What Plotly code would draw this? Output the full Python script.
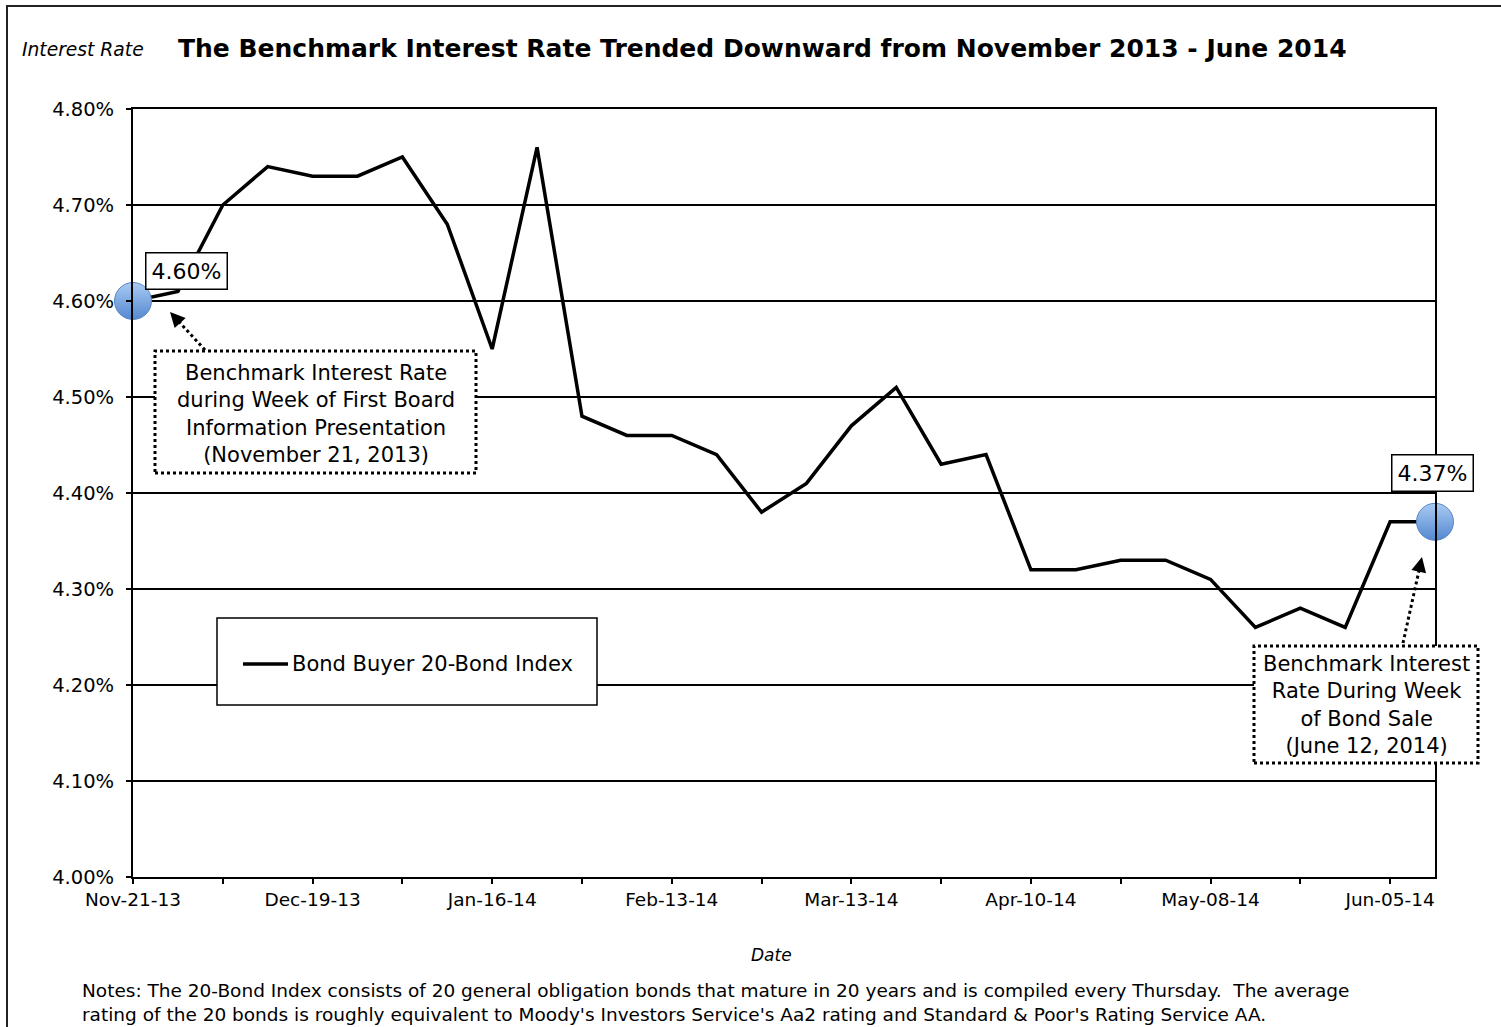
import plotly.graph_objects as go

# Weekly Bond Buyer 20-Bond Index readings (compiled every Thursday)
dates = [
    "2013-11-21", "2013-11-28", "2013-12-05", "2013-12-12", "2013-12-19",
    "2013-12-26", "2014-01-02", "2014-01-09", "2014-01-16", "2014-01-23",
    "2014-01-30", "2014-02-06", "2014-02-13", "2014-02-20", "2014-02-27",
    "2014-03-06", "2014-03-13", "2014-03-20", "2014-03-27", "2014-04-03",
    "2014-04-10", "2014-04-17", "2014-04-24", "2014-05-01", "2014-05-08",
    "2014-05-15", "2014-05-22", "2014-05-29", "2014-06-05", "2014-06-12",
]
rates = [
    4.60, 4.61, 4.70, 4.74, 4.73, 4.73, 4.75, 4.68, 4.55, 4.76,
    4.48, 4.46, 4.46, 4.44, 4.38, 4.41, 4.47, 4.51, 4.43, 4.44,
    4.32, 4.32, 4.33, 4.33, 4.31, 4.26, 4.28, 4.26, 4.37, 4.37,
]
series_name = "Bond Buyer 20-Bond Index"
y_ticks = [4.00, 4.10, 4.20, 4.30, 4.40, 4.50, 4.60, 4.70, 4.80]
y_tick_text = [f"{v:.2f}%" for v in y_ticks]

title_text = "The Benchmark Interest Rate Trended Downward from November 2013 - June 2014"
first_note = ("Benchmark Interest Rate<br>during Week of First Board<br>"
              "Information Presentation<br>(November 21, 2013)")
sale_note = "Benchmark Interest<br>Rate During Week<br>of Bond Sale<br>(June 12, 2014)"
notes_text = ("Notes: The 20-Bond Index consists of 20 general obligation bonds that mature in 20 years "
              "and is compiled every Thursday.  The average<br>rating of the 20 bonds is roughly equivalent "
              "to Moody's Investors Service's Aa2 rating and Standard &amp; Poor's Rating Service AA.")

W, H = 1501, 1027
L, R, T, B = 133, 1435, 109, 877  # plot-area edges in pixels
FONT = "DejaVu Sans"
WEEK_MS = 7 * 24 * 3600 * 1000


def px(x):
    return (x - L) / (R - L)


def py(y):
    return (B - y) / (B - T)


def text_ann(x, y, text, size, **kw):
    d = dict(xref="paper", yref="paper", x=px(x), y=py(y), text=text,
             showarrow=False, xanchor="center", yanchor="middle",
             font=dict(family=FONT, size=size, color="black"))
    d.update(kw)
    return d


fig = go.Figure()

fig.add_trace(go.Scatter(
    x=dates, y=rates, mode="lines", name=series_name, showlegend=False,
    line=dict(color="black", width=3.5),
))

# highlighted endpoints
sel = [0, len(dates) - 1]
fig.add_trace(go.Scatter(
    x=[dates[i] for i in sel], y=[rates[i] for i in sel], mode="markers",
    showlegend=False, cliponaxis=False,
    marker=dict(size=37, color="#A9CBF3",
                gradient=dict(type="vertical", color="#5488D0"),
                line=dict(color="#5A86C4", width=1)),
))

shapes = []
annotations = []

# outer frame
shapes.append(dict(type="rect", xref="paper", yref="paper",
                   x0=px(7), x1=px(1520), y0=py(1045), y1=py(6),
                   line=dict(color="#222", width=2), layer="below"))

# legend box with line sample and series name
shapes.append(dict(type="rect", xref="paper", yref="paper",
                   x0=px(217), x1=px(597), y0=py(705), y1=py(618),
                   line=dict(color="black", width=1.5), fillcolor="white", layer="above"))
shapes.append(dict(type="line", xref="paper", yref="paper",
                   x0=px(243), x1=px(288), y0=py(664), y1=py(664),
                   line=dict(color="black", width=3.5), layer="above"))
annotations.append(text_ann(290, 664, series_name, 21, xanchor="left"))

# dotted callout boxes
for (x0, x1, y0, y1) in [(155, 476, 351, 473), (1254, 1478, 646, 763)]:
    shapes.append(dict(type="rect", xref="paper", yref="paper",
                       x0=px(x0), x1=px(x1), y0=py(y1), y1=py(y0),
                       line=dict(color="black", width=3, dash="dot"),
                       fillcolor="white", layer="above"))

# dotted arrows: shaft as a shape, head as an annotation arrow
arrows = [((205, 350), (170, 312)), ((1403, 643), (1422, 557))]
for (tx, ty), (hx, hy) in arrows:
    dx, dy = tx - hx, ty - hy
    n = (dx * dx + dy * dy) ** 0.5
    ux, uy = dx / n, dy / n
    shapes.append(dict(type="line", xref="paper", yref="paper",
                       x0=px(tx), y0=py(ty), x1=px(hx + ux * 8), y1=py(hy + uy * 8),
                       line=dict(color="black", width=3, dash="dot"), layer="above"))
    annotations.append(dict(xref="paper", yref="paper", x=px(hx), y=py(hy),
                            text="", showarrow=True, arrowhead=2, arrowsize=1,
                            arrowwidth=3, arrowcolor="black",
                            ax=ux * 11, ay=uy * 11))

# callout texts
annotations.append(text_ann(316, 414, first_note, 21))
annotations.append(text_ann(1366, 705, sale_note, 21))

# value labels for the endpoints
annotations.append(text_ann(186, 271, f"{rates[0]:.2f}%", 22,
                            bgcolor="white", bordercolor="black", borderwidth=1.5, borderpad=5))
annotations.append(text_ann(1432, 473, f"{rates[-1]:.2f}%", 22,
                            bgcolor="white", bordercolor="black", borderwidth=1.5, borderpad=5))

# titles and notes
annotations.append(text_ann(176, 48, f"<b>{title_text}</b>", 25, xanchor="left"))
annotations.append(text_ann(20, 49, "<i>Interest Rate</i>", 18.7, xanchor="left"))
annotations.append(text_ann(771, 955, "<i>Date</i>", 17))
annotations.append(text_ann(80, 1002, notes_text, 18.5, xanchor="left", align="left"))

fig.update_layout(
    width=W, height=H,
    margin=dict(l=L, r=W - R, t=T, b=H - B),
    paper_bgcolor="white", plot_bgcolor="white",
    font=dict(family=FONT, size=18, color="black"),
    showlegend=False,
    shapes=shapes,
    annotations=annotations,
    xaxis=dict(
        type="date", range=[dates[0], dates[-1]],
        tick0=dates[0], dtick=4 * WEEK_MS, tickformat="%b-%d-%y",
        ticks="outside", ticklen=5, tickwidth=1.5, tickcolor="black",
        minor=dict(tick0=dates[0], dtick=2 * WEEK_MS, ticks="outside",
                   ticklen=5, tickwidth=1.5, tickcolor="black", showgrid=False),
        showline=True, linecolor="black", linewidth=2, mirror=True,
        showgrid=False, zeroline=False,
        tickfont=dict(family=FONT, size=18.5, color="black"),
    ),
    xaxis2=dict(
        type="date", overlaying="x", matches="x", anchor="y", side="bottom",
        tick0=dates[0], dtick=4 * WEEK_MS,
        ticks="inside", ticklen=5, tickwidth=1.5, tickcolor="black",
        minor=dict(tick0=dates[0], dtick=2 * WEEK_MS, ticks="inside",
                   ticklen=5, tickwidth=1.5, tickcolor="black", showgrid=False),
        showticklabels=False, showgrid=False, showline=False, zeroline=False,
    ),
    yaxis=dict(
        range=[4.0, 4.8], tickvals=y_ticks, ticktext=y_tick_text,
        ticks="outside", ticklen=5, tickwidth=1.5, tickcolor="black",
        ticklabelstandoff=8,
        showline=True, linecolor="black", linewidth=2, mirror=True,
        showgrid=True, gridcolor="black", gridwidth=1.5, zeroline=False,
        tickfont=dict(family=FONT, size=19.5, color="black"),
    ),
)

fig.write_html("out.html")
